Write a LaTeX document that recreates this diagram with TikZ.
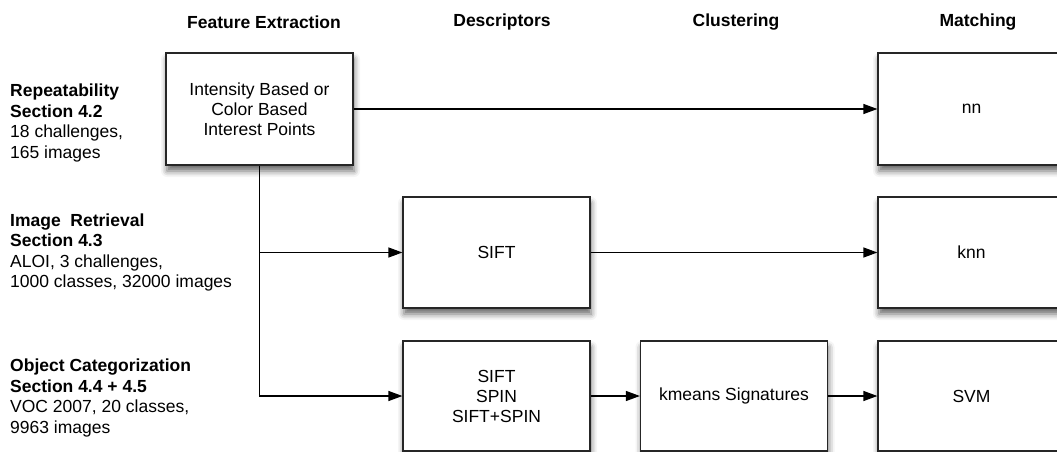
\documentclass[tikz,border=0pt]{standalone}
\usepackage{fontspec}
\setmainfont{Liberation Sans}
\usetikzlibrary{arrows.meta,shadows.blur}

\tikzset{
  stage/.style={draw=black!85, line width=1.2pt, fill=white, minimum width=187pt,
    align=center, font=\fontsize{17.5}{20}\selectfont,
    blur shadow={shadow xshift=1pt, shadow yshift=-6pt, shadow blur radius=6pt, shadow opacity=60}},
  head/.style={font=\fontsize{17.5}{20}\selectfont\bfseries},
  setlabel/.style={anchor=north west, inner sep=0pt, align=left, font=\fontsize{17.5}{20.5}\selectfont},
  link/.style={line width=1.2pt, -{Triangle[length=14pt,width=10pt]}},
}

\begin{document}
\begin{tikzpicture}[x=1pt, y=-1pt]
			\useasboundingbox (0, 0) rectangle (1057, 452);
			\clip (0, 0) rectangle (1057, 452);
			
			%%%%% HEADERS %%%%%
			\node[head] (hfe) at (264, 22) {Feature Extraction};
			\node[head] (hdesc) at (502, 22) {Descriptors};
			\node[head] (hclust) at (736, 22) {Clustering};
			\node[head] (hmatch) at (978, 22) {Matching};
			
			%%%%% LEFT LABELS %%%%%
			\node[setlabel] (lrep) at (10, 84) {\textbf{Repeatability}\\ \textbf{Section 4.2}\\ 18 challenges,\\ 165 images};
			\node[setlabel] (lret) at (10, 213.5) {\textbf{Image\ \ Retrieval}\\ \textbf{Section 4.3}\\ ALOI, 3 challenges,\\ 1000 classes, 32000 images};
			\node[setlabel] (lcat) at (10, 359) {\textbf{Object Categorization}\\ \textbf{Section 4.4 + 4.5}\\ VOC 2007, 20 classes,\\ 9963 images};
			
			%%%%% BOXES %%%%%
			\node[stage, minimum height=112pt] (fe) at (259.5, 109) {Intensity Based or\\ Color Based\\ Interest Points};
			\node[stage, minimum height=112pt] (nn) at (971.5, 109) {nn};
			
			\node[stage, minimum height=111pt] (sift) at (496.5, 252.5) {SIFT};
			\node[stage, minimum height=111pt] (knn) at (971.5, 252.5) {knn};
			
			\node[stage, minimum height=110pt] (multi) at (496.5, 396) {SIFT\\ SPIN\\ SIFT+SPIN};
			\node[stage, minimum height=110pt] (kmeans) at (734, 396) {kmeans Signatures};
			\node[stage, minimum height=110pt] (svm) at (971.5, 396) {SVM};
			
			%%%%% CONNECTORS %%%%%
			\draw[link] (fe) -- (nn);
			\draw[link] (sift) -- (knn);
			\coordinate (split) at (fe.south |- sift);
			\draw[line width=1.2pt] (fe.south) -- (split);
			\draw[link] (split) -- (sift);
			\draw[link] (split) |- (multi);
			\draw[link] (multi) -- (kmeans);
			\draw[link] (kmeans) -- (svm);
\end{tikzpicture}
\end{document}
